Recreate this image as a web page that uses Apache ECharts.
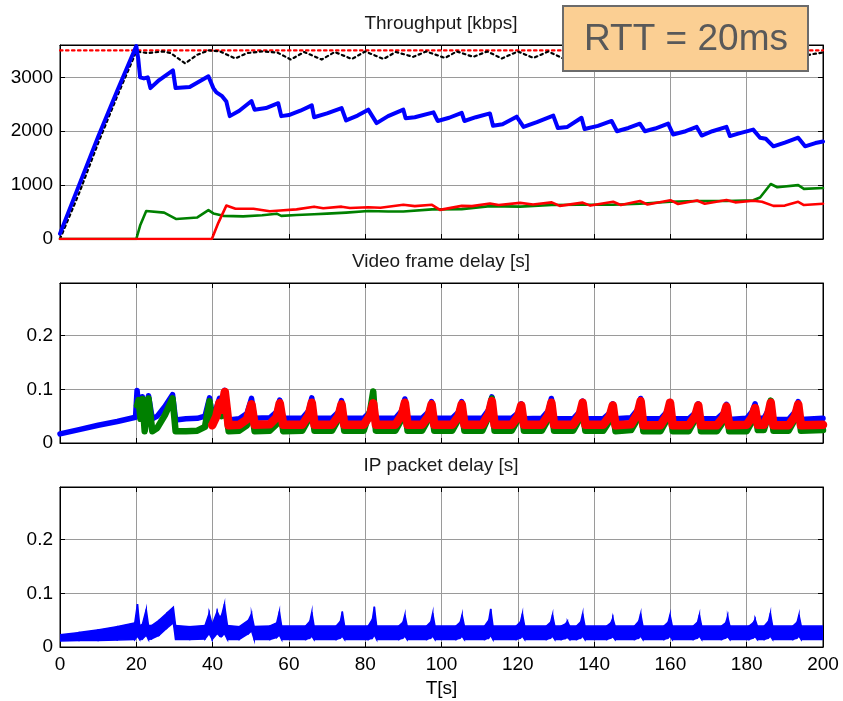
<!DOCTYPE html>
<html><head><meta charset="utf-8">
<script src="https://cdn.jsdelivr.net/npm/echarts@6/dist/echarts.min.js"></script>
<style>html,body{margin:0;padding:0;background:#fff}#c{width:843px;height:701px}</style>
</head><body><div id="c"></div>
<script>
// ---------- Throughput [kbps] ----------
const blueT = [0, 5, 10, 15, 20, 20.5, 21, 22, 23, 23.7, 26, 29.6, 30.3, 34, 38.9, 40.2, 41, 42.5, 43.6, 44.5, 47, 50.2, 51, 54, 57.2, 58, 60, 63, 66, 66.6, 70, 73.8, 75, 78, 80.8, 83, 86, 90, 90.6, 93, 97.9, 99, 102, 105.3, 106, 109, 112.7, 113.5, 116, 119.7, 121.5, 125, 129.3, 130.5, 133, 136.7, 137.5, 141, 144.6, 146, 149, 152, 153.3, 156, 159.4, 160.7, 164, 166.9, 168.2, 171, 174.7, 175.6, 178, 181.7, 183.5, 185, 187, 190, 193.5, 195.3, 198, 200];
const blueV = [100, 1000, 1900, 2750, 3580, 3350, 3000, 2980, 3000, 2800, 2950, 3130, 2800, 2820, 3020, 2800, 2720, 2650, 2550, 2280, 2380, 2560, 2400, 2430, 2520, 2280, 2300, 2380, 2480, 2260, 2330, 2430, 2200, 2290, 2400, 2150, 2280, 2400, 2240, 2260, 2350, 2190, 2250, 2340, 2190, 2260, 2330, 2100, 2130, 2270, 2080, 2170, 2290, 2060, 2080, 2250, 2040, 2100, 2190, 2000, 2060, 2140, 2000, 2050, 2140, 1940, 2000, 2080, 1920, 2000, 2080, 1910, 1960, 2030, 1880, 1860, 1720, 1790, 1880, 1720, 1780, 1810];

const blackT = [0, 5, 10, 15, 20, 23, 27, 29, 32.8, 36, 39, 42, 45.9, 49, 53, 57, 60.5, 64, 68.6, 72, 76.5, 80, 84.8, 88, 92.6, 96, 100.9, 104, 108.3, 112, 115.8, 120, 124.1, 128, 131.9, 135, 139.5, 143, 147, 151, 155, 159, 163, 167, 171, 175, 179, 183, 187, 191, 195, 198, 200];
const blackV = [0, 850, 1780, 2650, 3480, 3450, 3480, 3450, 3260, 3420, 3500, 3480, 3350, 3450, 3480, 3460, 3330, 3470, 3330, 3470, 3340, 3480, 3340, 3470, 3380, 3480, 3360, 3480, 3380, 3480, 3350, 3480, 3360, 3480, 3350, 3470, 3360, 3480, 3370, 3480, 3360, 3480, 3370, 3480, 3360, 3480, 3370, 3480, 3380, 3480, 3400, 3440, 3460];

const capT = [0, 200];
const capV = [3500, 3500];

const greenT = [0, 20, 21, 22.6, 27.3, 30.5, 36, 38.9, 40.2, 42.8, 48, 53, 56.8, 58, 62, 66.6, 70, 75, 80.8, 86, 90, 97.5, 105.3, 112.7, 120.6, 128.9, 136, 145, 152, 160, 167, 174.7, 181.7, 183.5, 186.3, 188, 193.5, 195, 200];
const greenV = [0, 0, 250, 520, 490, 370, 400, 535, 475, 430, 420, 440, 470, 430, 445, 460, 470, 490, 520, 510, 510, 550, 555, 610, 600, 630, 635, 635, 655, 690, 705, 705, 720, 770, 1020, 960, 1000, 930, 945];

const redT = [0, 39.8, 41.5, 43.6, 46, 50.7, 55, 57.7, 62, 66.6, 69, 73.8, 76, 80.8, 84, 90, 93, 97.5, 99.6, 105.3, 108, 112.7, 115, 120.6, 124, 128.9, 131, 137, 139, 145, 147, 152, 154, 160, 162, 167, 169, 174.7, 177, 181.7, 184, 187, 190, 193.5, 195, 200];
const redV = [0, 0, 300, 620, 560, 560, 515, 530, 550, 600, 570, 600, 575, 590, 580, 635, 610, 635, 540, 615, 610, 660, 630, 670, 640, 680, 615, 675, 620, 690, 630, 705, 640, 720, 650, 715, 655, 725, 680, 710, 690, 615, 620, 690, 630, 655];

// ---------- Video frame delay [s] ----------
const fdT = [0, 5, 10, 15, 19.8,
  20.2, 20.6, 21.1, 21.6, 22.2, 23.2, 24.2, 25.5, 27.5, 29.5, 30.3, 33, 36, 38, 39.2, 39.9,
  41, 41.8, 42.4, 43.2, 44.2, 47, 49, 50.2, 51, 55, 56.8, 57.6, 58.5,
  63.5, 65.2, 66, 66.7,
  71.3, 73, 73.8, 74.5,
  79.6, 81.3, 82.1, 82.8,
  87.9, 89.6, 90.4, 91.1,
  94.9, 96.6, 97.4, 98.1,
  102.8, 104.5, 105.3, 106,
  110.7, 112.4, 113.2, 113.9,
  118.4, 120.1, 120.9, 121.6,
  126.3, 128, 128.8, 129.5,
  134.5, 136.2, 137, 137.7,
  142.4, 144.1, 144.9, 145.6,
  149.7, 151.4, 152.2, 152.9,
  157.4, 159.1, 159.9, 160.6,
  164.8, 166.5, 167.3, 168,
  172.2, 173.9, 174.7, 175.4,
  180, 181.4, 182.2, 182.9,
  184.5, 185.6, 186.3, 187,
  191, 192.7, 193.5, 194.2,
  200];
const fdBlue = [0.017, 0.025, 0.033, 0.040, 0.048,
  0.098, 0.07, 0.055, 0.086, 0.042, 0.088, 0.045, 0.05, 0.068, 0.09, 0.043, 0.045, 0.046, 0.05, 0.084, 0.05,
  0.065, 0.083, 0.068, 0.098, 0.043, 0.045, 0.055, 0.083, 0.046, 0.047, 0.058, 0.08, 0.046,
  0.046, 0.06, 0.084, 0.046,
  0.046, 0.058, 0.079, 0.046,
  0.046, 0.058, 0.076, 0.046,
  0.046, 0.06, 0.082, 0.046,
  0.046, 0.058, 0.077, 0.046,
  0.046, 0.058, 0.077, 0.046,
  0.046, 0.062, 0.086, 0.046,
  0.046, 0.056, 0.073, 0.045,
  0.046, 0.06, 0.083, 0.045,
  0.045, 0.058, 0.078, 0.045,
  0.045, 0.056, 0.073, 0.045,
  0.047, 0.062, 0.083, 0.045,
  0.045, 0.058, 0.077, 0.045,
  0.045, 0.056, 0.073, 0.045,
  0.045, 0.056, 0.072, 0.044,
  0.046, 0.058, 0.073, 0.046,
  0.046, 0.06, 0.077, 0.044,
  0.044, 0.058, 0.077, 0.044,
  0.046];
const fdGreen = [null, null, null, null, null,
  0.07, 0.08, 0.045, 0.082, 0.022, 0.083, 0.022, 0.028, 0.052, 0.083, 0.022, 0.022, 0.023, 0.03, 0.078, 0.04,
  0.055, 0.072, 0.05, 0.08, 0.022, 0.023, 0.033, 0.068, 0.022, 0.023, 0.035, 0.07, 0.022,
  0.023, 0.045, 0.07, 0.023,
  0.023, 0.045, 0.068, 0.023,
  0.023, 0.06, 0.096, 0.023,
  0.023, 0.045, 0.07, 0.023,
  0.023, 0.045, 0.068, 0.023,
  0.023, 0.045, 0.068, 0.023,
  0.023, 0.05, 0.083, 0.023,
  0.023, 0.045, 0.068, 0.023,
  0.023, 0.045, 0.07, 0.023,
  0.023, 0.045, 0.07, 0.023,
  0.023, 0.042, 0.065, 0.022,
  0.024, 0.045, 0.07, 0.022,
  0.022, 0.044, 0.068, 0.022,
  0.022, 0.044, 0.068, 0.022,
  0.022, 0.04, 0.062, 0.022,
  0.022, 0.04, 0.06, 0.024,
  0.024, 0.05, 0.079, 0.023,
  0.023, 0.045, 0.068, 0.023,
  0.024];
const fdRed = [null, null, null, null, null,
  null, null, null, null, null, null, null, null, null, null, null, null, null, null, null, 0.033,
  0.05, 0.075, 0.062, 0.095, 0.033, 0.034, 0.044, 0.072, 0.034, 0.035, 0.048, 0.074, 0.034,
  0.034, 0.052, 0.075, 0.034,
  0.034, 0.05, 0.072, 0.034,
  0.034, 0.052, 0.074, 0.034,
  0.034, 0.052, 0.075, 0.034,
  0.034, 0.05, 0.072, 0.034,
  0.034, 0.05, 0.072, 0.034,
  0.034, 0.054, 0.078, 0.034,
  0.034, 0.05, 0.07, 0.034,
  0.034, 0.052, 0.075, 0.034,
  0.034, 0.052, 0.075, 0.034,
  0.034, 0.05, 0.07, 0.033,
  0.035, 0.055, 0.078, 0.033,
  0.033, 0.052, 0.075, 0.033,
  0.033, 0.05, 0.07, 0.033,
  0.033, 0.048, 0.068, 0.033,
  0.034, 0.048, 0.065, 0.034,
  0.034, 0.052, 0.075, 0.033,
  0.033, 0.05, 0.072, 0.033,
  0.034];

// ---------- IP packet delay [s] (band: low / high edge) ----------
const pdT = [0, 5, 10, 15, 19.6, 20.3, 20.9, 21.6, 22.6, 23.2, 24, 26, 28, 29.7, 30.3, 34, 38, 39.1, 39.9, 41.2, 41.9, 42.4, 43.1, 43.9, 47, 49.4, 50.2, 50.9, 55, 56.8, 57.5, 58.1,
  64.4, 65.5, 66, 66.6,
  72.4, 73.5, 74, 74.6,
  80.8, 81.9, 82.4, 83,
  88.8, 89.9, 90.4, 91,
  96.1, 97.2, 97.7, 98.3,
  103.8, 104.9, 105.4, 106,
  111.3, 112.4, 112.9, 113.5,
  119.6, 120.7, 121.2, 121.8,
  127.5, 128.6, 129.1, 129.7,
  131.4, 132.5, 133, 133.6,
  135.4, 136.5, 137, 137.6,
  143.3, 144.4, 144.9, 145.5,
  150.6, 151.7, 152.2, 152.8,
  158.3, 159.4, 159.9, 160.5,
  166, 167.1, 167.6, 168.2,
  173.4, 174.5, 175, 175.6,
  180.6, 181.7, 182.2, 182.8,
  184.6, 185.7, 186.2, 186.8,
  192.1, 193.2, 193.7, 194.3,
  200];
const pdLo = [0.011, 0.012, 0.012, 0.013, 0.014, 0.02, 0.014, 0.015, 0.022, 0.014, 0.015, 0.022, 0.035, 0.045, 0.014, 0.014, 0.015, 0.025, 0.014, 0.025, 0.02, 0.02, 0.025, 0.014, 0.014, 0.025, 0.03, 0.014, 0.014, 0.018, 0.022, 0.014,
  0.014, 0.017, 0.02, 0.014,
  0.014, 0.017, 0.02, 0.014,
  0.014, 0.017, 0.022, 0.014,
  0.014, 0.017, 0.02, 0.014,
  0.014, 0.017, 0.02, 0.014,
  0.014, 0.017, 0.02, 0.014,
  0.014, 0.017, 0.021, 0.014,
  0.014, 0.017, 0.02, 0.014,
  0.014, 0.017, 0.02, 0.014,
  0.014, 0.016, 0.018, 0.014,
  0.014, 0.017, 0.02, 0.014,
  0.014, 0.017, 0.019, 0.014,
  0.014, 0.017, 0.02, 0.014,
  0.014, 0.017, 0.02, 0.014,
  0.014, 0.017, 0.02, 0.014,
  0.014, 0.017, 0.019, 0.014,
  0.014, 0.017, 0.019, 0.014,
  0.014, 0.017, 0.02, 0.014,
  0.014, 0.017, 0.02, 0.014,
  0.014];
const pdHi = [0.023, 0.027, 0.032, 0.038, 0.045, 0.08, 0.04, 0.042, 0.07, 0.04, 0.04, 0.05, 0.063, 0.074, 0.04, 0.038, 0.04, 0.063, 0.042, 0.066, 0.055, 0.06, 0.08, 0.04, 0.038, 0.05, 0.062, 0.038, 0.039, 0.045, 0.066, 0.039,
  0.039, 0.048, 0.065, 0.039,
  0.039, 0.048, 0.066, 0.039,
  0.039, 0.052, 0.075, 0.039,
  0.039, 0.046, 0.06, 0.039,
  0.039, 0.047, 0.063, 0.039,
  0.039, 0.046, 0.06, 0.039,
  0.039, 0.05, 0.071, 0.039,
  0.039, 0.047, 0.062, 0.039,
  0.039, 0.046, 0.06, 0.039,
  0.039, 0.043, 0.048, 0.039,
  0.039, 0.047, 0.062, 0.039,
  0.039, 0.045, 0.054, 0.039,
  0.039, 0.048, 0.062, 0.039,
  0.039, 0.046, 0.06, 0.039,
  0.039, 0.046, 0.06, 0.039,
  0.039, 0.045, 0.057, 0.039,
  0.039, 0.045, 0.052, 0.039,
  0.039, 0.048, 0.063, 0.039,
  0.039, 0.046, 0.06, 0.039,
  0.039];

const titles = ['Throughput [kbps]', 'Video frame delay [s]', 'IP packet delay [s]'];
const xName = 'T[s]';
const boxText = 'RTT = 20ms';

// ---------- build ----------
const FONT = 'Liberation Sans, Arial, sans-serif';
const pair = (t, v) => t.map((x, i) => [x, v[i]]);
const grids = [
  {left: 60, top: 45, width: 763, height: 194},
  {left: 60, top: 283, width: 763, height: 160},
  {left: 60, top: 487, width: 763, height: 160}
];
function xa(gi, pos, labels) {
  return {
    type: 'value', gridIndex: gi, position: pos, min: 0, max: 200, interval: 20,
    axisLine: {show: true, onZero: false, lineStyle: {color: '#000', width: 1}},
    axisTick: {show: true, inside: true, length: 5, lineStyle: {color: '#000'}},
    axisLabel: {show: labels, fontFamily: FONT, fontSize: 19, color: '#000', margin: 8},
    splitLine: {show: pos === 'bottom', lineStyle: {color: '#9a9a9a', width: 1}}
  };
}
function ya(gi, pos, max, interval) {
  return {
    type: 'value', gridIndex: gi, position: pos, min: 0, max: max, interval: interval,
    axisLine: {show: true, onZero: false, lineStyle: {color: '#000', width: 1}},
    axisTick: {show: true, inside: true, length: 5, lineStyle: {color: '#000'}},
    axisLabel: {show: pos === 'left', showMaxLabel: false, fontFamily: FONT, fontSize: 19, color: '#000', margin: 7,
      formatter: v => String(Math.round(v * 1000) / 1000)},
    splitLine: {show: pos === 'left', lineStyle: {color: '#9a9a9a', width: 1}}
  };
}
const xAxes = [xa(0, 'bottom', false), xa(0, 'top', false), xa(1, 'bottom', false), xa(1, 'top', false), xa(2, 'bottom', true), xa(2, 'top', false)];
xAxes[4].name = xName;
xAxes[4].nameLocation = 'middle';
xAxes[4].nameGap = 32;
xAxes[4].nameTextStyle = {fontFamily: FONT, fontSize: 19, color: '#000'};
const yAxes = [ya(0, 'left', 3600, 1000), ya(0, 'right', 3600, 1000), ya(1, 'left', 0.298, 0.1), ya(1, 'right', 0.298, 0.1), ya(2, 'left', 0.298, 0.1), ya(2, 'right', 0.298, 0.1)];

function line(data, xi, yi, color, width, type, z) {
  return {type: 'line', xAxisIndex: xi, yAxisIndex: yi, data: data, symbol: 'none', silent: true,
    connectNulls: false, animation: false, z: z || 2,
    lineStyle: {color: color, width: width, type: type || 'solid', join: 'round', cap: 'round'}};
}
function band(T, LO, HI, xi, yi, color) {
  return {
    type: 'custom', xAxisIndex: xi, yAxisIndex: yi, silent: true, animation: false, clip: true, z: 3,
    data: T.map((t, i) => [t, LO[i], HI[i]]),
    encode: {x: 0, y: [1, 2]},
    renderItem: function (params, api) {
      const i = params.dataIndex;
      if (i >= T.length - 1) return null;
      const pts = [api.coord([T[i], LO[i]]), api.coord([T[i + 1], LO[i + 1]]),
                   api.coord([T[i + 1], HI[i + 1]]), api.coord([T[i], HI[i]])];
      return {type: 'polygon', shape: {points: pts}, style: {fill: color, stroke: color, lineWidth: 1.5}};
    }
  };
}
const series = [
  line(pair(capT, capV), 0, 0, '#ff0000', 2.2, [2.5, 3.5], 3),
  line(pair(blackT, blackV), 0, 0, '#000', 2.2, [2.5, 3.5], 3),
  line(pair(blueT, blueV), 0, 0, '#0000ff', 4, 'solid', 4),
  line(pair(greenT, greenV), 0, 0, '#008000', 2.6, 'solid', 5),
  line(pair(redT, redV), 0, 0, '#ff0000', 2.6, 'solid', 6),
  line(pair(fdT, fdBlue), 2, 2, '#0000ff', 5.5, 'solid', 3),
  line(pair(fdT, fdGreen), 2, 2, '#008000', 6.5, 'solid', 4),
  line(pair(fdT, fdRed), 2, 2, '#ff0000', 8.5, 'solid', 5),
  band(pdT, pdLo, pdHi, 4, 4, '#0000ff')
];

const chart = echarts.init(document.getElementById('c'), null, {renderer: 'canvas'});
chart.setOption({
  animation: false,
  backgroundColor: '#fff',
  title: titles.map((t, i) => ({text: t, left: 441, textAlign: 'center', top: [14, 252, 456][i], padding: 0,
    textStyle: {fontFamily: FONT, fontSize: 19, fontWeight: 'normal', color: '#1a1a1a'}})),
  grid: grids.map(g => Object.assign({show: true, borderColor: '#000', borderWidth: 1, backgroundColor: '#fff'}, g)),
  xAxis: xAxes,
  yAxis: yAxes,
  series: series,
  graphic: [
    {type: 'rect', z: 100, zlevel: 1, shape: {x: 563, y: 6, width: 245, height: 65}, style: {fill: '#fbcf93', stroke: '#6b6b6b', lineWidth: 2}},
    {type: 'text', z: 101, zlevel: 1, x: 686, y: 40, style: {text: boxText, fontFamily: FONT, fontSize: 37, fill: '#595959', align: 'center', verticalAlign: 'middle'}}
  ]
});
</script></body></html>
